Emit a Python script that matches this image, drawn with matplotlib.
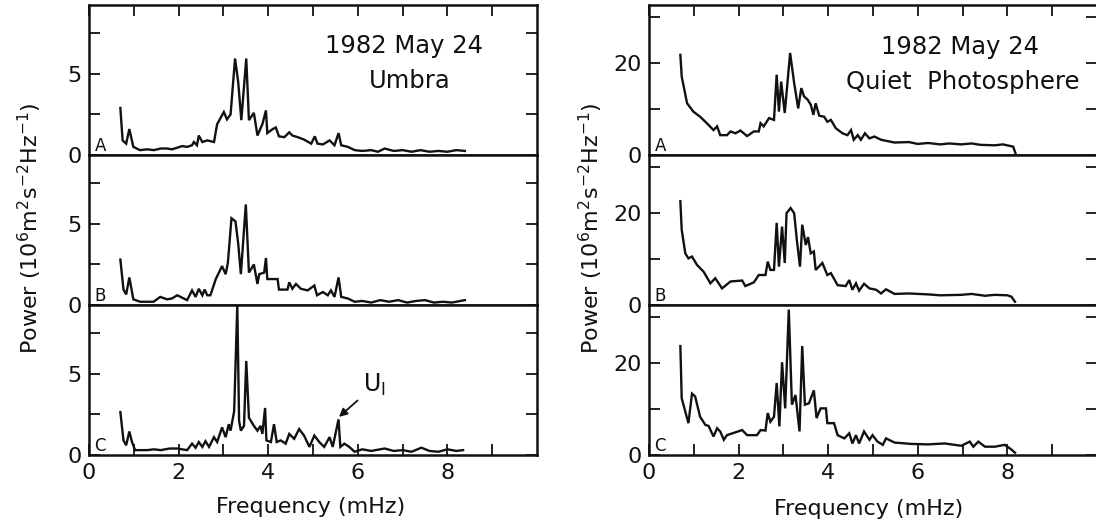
"""
Velocity power spectra, 1982 May 24: umbra (left) and quiet photosphere (right).
Three stacked spectra (A, B, C) per region, sharing the frequency axis.
"""

import matplotlib.pyplot as plt

plt.rcParams['font.family'] = ['DejaVu Sans']
plt.rcParams['mathtext.default'] = 'regular'

# ---- data (frequency in mHz, power in 1e6 m^2 s^-2 Hz^-1)
umbra_a_freq = [0.70, 0.75, 0.83, 0.90, 0.99, 1.14, 1.30, 1.45, 1.60, 1.74, 1.85, 1.97,
                2.08, 2.19, 2.30, 2.34, 2.41, 2.45, 2.53, 2.64, 2.79, 2.86, 3.01, 3.08,
                3.16, 3.26, 3.33, 3.40, 3.51, 3.57, 3.68, 3.76, 3.87, 3.95, 3.98, 4.10,
                4.17, 4.24, 4.36, 4.47, 4.54, 4.66, 4.80, 4.96, 5.04, 5.10, 5.22, 5.37,
                5.48, 5.57, 5.63, 5.78, 5.93, 6.10, 6.30, 6.45, 6.60, 6.80, 7.00, 7.20,
                7.40, 7.60, 7.80, 8.00, 8.20, 8.39]
umbra_a_pow = [2.9, 0.9, 0.7, 1.6, 0.5, 0.3, 0.35, 0.3, 0.4, 0.4, 0.35, 0.45,
               0.55, 0.5, 0.6, 0.8, 0.6, 1.2, 0.8, 0.9, 0.8, 1.9, 2.65, 2.2,
               2.5, 5.95, 4.5, 2.15, 5.95, 2.15, 2.6, 1.2, 1.9, 2.75, 1.35, 1.6,
               1.7, 1.15, 1.1, 1.4, 1.2, 1.1, 0.95, 0.7, 1.15, 0.7, 0.65, 0.9,
               0.6, 1.35, 0.6, 0.5, 0.3, 0.25, 0.3, 0.2, 0.4, 0.25, 0.3, 0.2,
               0.3, 0.2, 0.25, 0.2, 0.3, 0.25]

umbra_b_freq = [0.70, 0.77, 0.83, 0.90, 0.99, 1.14, 1.30, 1.44, 1.59, 1.74, 1.85, 1.97,
                2.08, 2.19, 2.30, 2.38, 2.45, 2.53, 2.58, 2.64, 2.71, 2.83, 2.97, 3.05,
                3.10, 3.18, 3.27, 3.33, 3.39, 3.50, 3.57, 3.68, 3.76, 3.80, 3.91, 3.95,
                3.98, 4.10, 4.21, 4.24, 4.43, 4.47, 4.54, 4.62, 4.73, 4.88, 5.03, 5.09,
                5.22, 5.33, 5.40, 5.48, 5.57, 5.63, 5.78, 5.93, 6.10, 6.30, 6.50, 6.70,
                6.90, 7.10, 7.30, 7.50, 7.70, 7.90, 8.10, 8.39]
umbra_b_pow = [2.8, 0.95, 0.65, 1.7, 0.35, 0.2, 0.2, 0.2, 0.5, 0.35, 0.4, 0.6,
               0.45, 0.3, 0.9, 0.5, 1.0, 0.6, 0.95, 0.6, 0.6, 1.6, 2.4, 1.9,
               2.6, 5.35, 5.15, 3.8, 1.9, 6.2, 2.0, 2.5, 1.3, 1.9, 2.0, 2.9,
               1.6, 1.6, 1.6, 0.95, 0.95, 1.4, 1.0, 1.3, 1.0, 0.9, 1.2, 0.6,
               0.8, 0.6, 0.9, 0.5, 1.7, 0.5, 0.4, 0.2, 0.25, 0.15, 0.3, 0.2,
               0.3, 0.15, 0.25, 0.3, 0.15, 0.2, 0.15, 0.3]

umbra_c_freq = [0.70, 0.77, 0.83, 0.90, 0.96, 1.03, 1.30, 1.45, 1.60, 1.80, 1.97, 2.19,
                2.30, 2.38, 2.45, 2.53, 2.60, 2.68, 2.79, 2.86, 2.97, 3.05, 3.12, 3.16,
                3.24, 3.31, 3.35, 3.39, 3.46, 3.51, 3.57, 3.68, 3.76, 3.83, 3.87, 3.93,
                3.96, 4.06, 4.13, 4.19, 4.28, 4.39, 4.47, 4.58, 4.69, 4.80, 4.92, 5.03,
                5.14, 5.25, 5.37, 5.44, 5.57, 5.61, 5.70, 5.81, 5.93, 6.10, 6.30, 6.60,
                6.80, 7.00, 7.20, 7.42, 7.60, 7.80, 8.00, 8.20, 8.35]
umbra_c_pow = [2.65, 0.9, 0.6, 1.45, 0.8, 0.3, 0.3, 0.35, 0.3, 0.4, 0.4, 0.3,
               0.7, 0.45, 0.8, 0.5, 0.85, 0.5, 1.1, 0.8, 1.7, 1.1, 1.9, 1.5,
               2.7, 9.25, 2.1, 1.5, 1.8, 5.8, 2.3, 1.8, 1.5, 1.8, 1.3, 2.9,
               0.9, 0.8, 1.9, 0.8, 0.9, 0.7, 1.3, 1.0, 1.6, 1.2, 0.5, 1.2,
               0.8, 0.5, 1.1, 0.5, 2.2, 0.5, 0.7, 0.5, 0.2, 0.35, 0.25, 0.4,
               0.25, 0.3, 0.2, 0.45, 0.25, 0.2, 0.35, 0.25, 0.3]

quiet_a_freq = [0.70, 0.73, 0.85, 0.99, 1.14, 1.29, 1.44, 1.52, 1.59, 1.74, 1.82, 1.93,
                2.04, 2.19, 2.34, 2.45, 2.49, 2.56, 2.68, 2.79, 2.85, 2.90, 2.95, 3.03,
                3.15, 3.24, 3.33, 3.40, 3.46, 3.54, 3.61, 3.67, 3.72, 3.80, 3.91, 3.98,
                4.06, 4.17, 4.32, 4.43, 4.51, 4.57, 4.66, 4.73, 4.82, 4.92, 5.03, 5.18,
                5.48, 5.80, 6.00, 6.23, 6.50, 6.70, 6.97, 7.20, 7.40, 7.72, 7.90, 8.13,
                8.18]
quiet_a_pow = [21.7, 17.0, 11.2, 9.4, 8.3, 6.9, 5.4, 6.2, 4.3, 4.3, 5.1, 4.7,
               5.3, 4.1, 5.1, 5.1, 6.9, 6.2, 8.0, 7.6, 17.4, 9.4, 15.9, 9.1,
               22.1, 15.6, 10.1, 14.5, 12.7, 12.0, 10.9, 8.7, 11.2, 8.5, 8.3, 7.2,
               7.6, 5.8, 4.7, 4.3, 5.4, 3.3, 4.3, 3.3, 4.7, 3.6, 4.0, 3.3,
               2.7, 2.8, 2.4, 2.6, 2.3, 2.5, 2.3, 2.5, 2.2, 2.1, 2.3, 1.8,
               0.4]

quiet_b_freq = [0.70, 0.73, 0.81, 0.88, 0.96, 1.07, 1.22, 1.37, 1.48, 1.63, 1.82, 2.08,
                2.15, 2.34, 2.45, 2.60, 2.65, 2.71, 2.79, 2.85, 2.90, 2.97, 3.03, 3.07,
                3.16, 3.24, 3.30, 3.37, 3.42, 3.50, 3.55, 3.61, 3.68, 3.72, 3.87, 3.98,
                4.06, 4.21, 4.39, 4.47, 4.54, 4.62, 4.69, 4.80, 4.92, 5.07, 5.18, 5.29,
                5.48, 5.80, 6.23, 6.50, 6.97, 7.20, 7.50, 7.72, 8.00, 8.09, 8.17]
quiet_b_pow = [22.5, 16.3, 11.2, 10.1, 10.5, 8.7, 7.2, 4.7, 5.8, 3.6, 5.1, 5.3,
               4.1, 4.9, 6.5, 6.5, 9.4, 7.6, 7.6, 17.8, 8.3, 17.0, 9.1, 19.9,
               21.0, 19.9, 14.1, 8.3, 17.4, 13.0, 14.7, 11.2, 11.6, 7.6, 9.1, 6.5,
               6.9, 4.3, 4.1, 5.4, 3.3, 4.7, 3.1, 4.6, 3.6, 3.3, 2.5, 3.4,
               2.4, 2.5, 2.3, 2.1, 2.2, 2.4, 2.0, 2.2, 2.1, 1.8, 0.7]

quiet_c_freq = [0.70, 0.73, 0.88, 0.96, 1.03, 1.14, 1.26, 1.33, 1.44, 1.52, 1.59, 1.67,
                1.74, 2.08, 2.19, 2.41, 2.49, 2.60, 2.65, 2.71, 2.79, 2.85, 2.91, 2.97,
                3.04, 3.12, 3.19, 3.27, 3.36, 3.42, 3.48, 3.57, 3.68, 3.74, 3.83, 3.95,
                3.98, 4.13, 4.21, 4.36, 4.47, 4.54, 4.62, 4.69, 4.80, 4.92, 4.99, 5.10,
                5.22, 5.29, 5.48, 5.85, 6.23, 6.60, 6.97, 7.16, 7.24, 7.35, 7.50, 7.72,
                7.94, 8.06, 8.17]
quiet_c_pow = [23.6, 12.3, 6.9, 13.3, 12.7, 8.3, 6.5, 6.3, 4.0, 5.8, 5.1, 3.3,
               4.3, 5.4, 4.3, 4.3, 5.4, 5.3, 9.1, 7.2, 8.3, 15.6, 6.2, 20.1,
               10.1, 31.5, 10.9, 13.0, 5.1, 23.6, 10.9, 11.2, 14.0, 8.0, 10.1, 10.1,
               6.9, 6.9, 4.3, 3.6, 4.7, 2.5, 4.3, 2.5, 5.1, 3.3, 4.3, 2.9,
               2.2, 3.6, 2.7, 2.4, 2.3, 2.5, 2.0, 2.9, 1.8, 2.9, 1.8, 1.8,
               2.2, 1.4, 0.5]

panel_letters = ['A', 'B', 'C']
x_ticks = list(range(10))
x_tick_labels = ['0', '', '2', '', '4', '', '6', '', '8', '']
umbra_y_ticks = [0, 2.5, 5, 7.5]
umbra_y_labels = ['0', '', '5', '']
quiet_y_ticks = [0, 10, 20, 30]
quiet_y_labels = ['0', '', '20', '']

# ---- layout (figure pixels)
W, H = 1096, 527
PANEL_W, PANEL_H = 448, 150
PANEL_TOPS = [5, 155, 305]
LINE = '#111111'


def make_column(fig, x0, spectra, y_max, y_ticks, y_labels):
    axes = []
    for i, (freq, power) in enumerate(spectra):
        top = PANEL_TOPS[i]
        ax = fig.add_axes([x0 / W, 1 - (top + PANEL_H) / H, PANEL_W / W, PANEL_H / H])
        ax.plot(freq, power, color=LINE, lw=1.7, solid_joinstyle='miter')
        ax.set_xlim(0, 10)
        ax.set_ylim(0, y_max)
        for s in ax.spines.values():
            s.set_linewidth(1.8)
            s.set_color(LINE)

        ax.set_xticks(x_ticks)
        ax.set_xticklabels(x_tick_labels)
        ax.set_yticks(y_ticks)
        ax.set_yticklabels(y_labels)
        ax.tick_params(axis='both', direction='in', length=8, width=1.3,
                       color=LINE, labelsize=16, labelcolor=LINE)
        ax.tick_params(axis='y', left=True, right=True, pad=5)
        if i == 0:
            ax.tick_params(axis='x', top=True, bottom=False, labelbottom=False)
        elif i == 1:
            ax.tick_params(axis='x', top=False, bottom=False, labelbottom=False)
        else:
            ax.tick_params(axis='x', top=False, bottom=True, labelbottom=True, pad=6)

        ax.text(0.012, 0.0, panel_letters[i], transform=ax.transAxes,
                ha='left', va='bottom', fontsize=12, color=LINE)
        axes.append(ax)
    return axes


fig = plt.figure(figsize=(W / 100, H / 100), dpi=100)
fig.patch.set_facecolor('white')

umbra_axes = make_column(
    fig, 89,
    [(umbra_a_freq, umbra_a_pow), (umbra_b_freq, umbra_b_pow), (umbra_c_freq, umbra_c_pow)],
    9.25, umbra_y_ticks, umbra_y_labels)
quiet_axes = make_column(
    fig, 649,
    [(quiet_a_freq, quiet_a_pow), (quiet_b_freq, quiet_b_pow), (quiet_c_freq, quiet_c_pow)],
    32.5, quiet_y_ticks, quiet_y_labels)

# Headings
umbra_axes[0].text(0.703, 0.727, '1982 May 24', transform=umbra_axes[0].transAxes,
                   ha='center', va='center', fontsize=17.5, color=LINE)
umbra_axes[0].text(0.717, 0.493, 'Umbra', transform=umbra_axes[0].transAxes,
                   ha='center', va='center', fontsize=17.5, color=LINE)
quiet_axes[0].text(0.694, 0.72, '1982 May 24', transform=quiet_axes[0].transAxes,
                   ha='center', va='center', fontsize=17.5, color=LINE)
quiet_axes[0].text(0.70, 0.487, 'Quiet  Photosphere', transform=quiet_axes[0].transAxes,
                   ha='center', va='center', fontsize=17.5, color=LINE)

# U1 mode marker
umbra_axes[2].annotate('U$_I$', xy=(5.58, 2.35), xytext=(6.38, 4.3),
                       ha='center', va='center', fontsize=17, color=LINE,
                       arrowprops=dict(arrowstyle='-|>', color=LINE, lw=1.3,
                                       mutation_scale=12, shrinkA=3, shrinkB=0))

# Axis titles
ylabel = 'Power (10$^6$m$^2$s$^{-2}$Hz$^{-1}$)'
fig.text(30 / W, 1 - 228 / H, ylabel, rotation=90, ha='center', va='center',
         fontsize=16, color=LINE)
fig.text(591 / W, 1 - 228 / H, ylabel, rotation=90, ha='center', va='center',
         fontsize=16, color=LINE)
fig.text(311 / W, 1 - 507 / H, 'Frequency (mHz)', ha='center', va='center',
         fontsize=16, color=LINE)
fig.text(869 / W, 1 - 509 / H, 'Frequency (mHz)', ha='center', va='center',
         fontsize=16, color=LINE)

fig.savefig('out.png', dpi=100, facecolor='white')
